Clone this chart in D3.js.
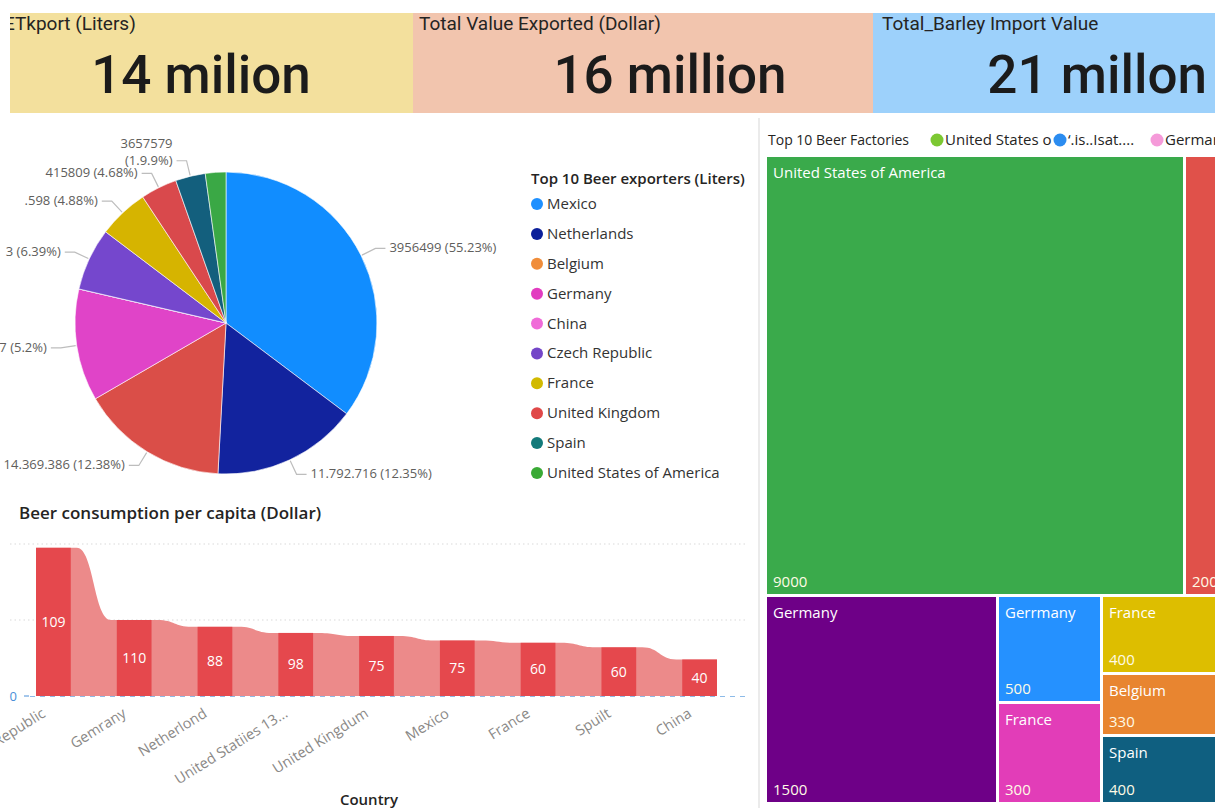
<!DOCTYPE html>
<html>
<head>
<meta charset="utf-8">
<script src="https://cdn.jsdelivr.net/npm/d3@7"></script>
<style>
  body { margin: 0; background: #fff; }
  svg { display: block; font-family: "Segoe UI", "Open Sans", sans-serif; }
</style>
</head>
<body>
<div id="dash"></div>
<script>
// ---- data ----
const kpiTitles = ["ETkport (Liters)", "Total Value Exported (Dollar)", "Total_Barley Import Value"];
const kpiValues = ["14 milion", "16 million", "21 millon"];

const exporters = ["Mexico", "Netherlands", "Belgium", "Germany", "China", "Czech Republic",
                   "France", "United Kingdom", "Spain", "United States of America"];
const exportShare = [35.3, 15.6, 15.8, 12.0, 0, 6.7, 5.4, 3.9, 3.2, 2.2];
const exportLabels = [["3956499 (55.23%)"], ["11.792.716 (12.35%)"], ["14.369.386 (12.38%)"], ["7 (5.2%)"], [],
                      ["3 (6.39%)"], [".598 (4.88%)"], ["415809 (4.68%)"], ["3657579", "(1.9.9%)"], []];

const countries = ["Czech Republic", "Gemrany", "Netherlond", "United Statiies 13...", "United Kingdum",
                   "Mexico", "France", "Spuilt", "China"];
const perCapita = [195, 100, 91, 83, 79, 73, 70, 64, 48];
const perCapitaLabels = [109, 110, 88, 98, 75, 75, 60, 60, 40];

const factoryNames = ["United States of America", "", "Germany", "Gerrmany", "France", "France", "Belgium", "Spain"];
const factoryLabels = [9000, 200, 1500, 500, 300, 400, 330, 400];
const factorySize = [1810, 140, 476, 110, 103, 88, 70, 77];
const factoryLegend = ["United States o", "\u2018.is..Isat....", "Germany"];

// ---- colours ----
const kpiColors = ["#f3e09d", "#f2c5ae", "#9dd1fb"];
const pieColors = ["#118dff", "#12239e", "#da4e48", "#e044c8", "#f06bd8", "#7547cd",
                   "#d6b400", "#d9494c", "#135f7d", "#3aa845"];
const legendColors = ["#1e90ff", "#0b1f9a", "#f08d3a", "#e23cc0", "#f06bd8", "#7446c8",
                      "#d2ba00", "#e04848", "#137a7a", "#3aaa35"];
const factoryColors = ["#3aaa4b", "#e0514a", "#6e0087", "#2591ff", "#e23db8", "#ddbe00", "#e88530", "#0f5f80"];
const factoryLegendColors = ["#7cc832", "#2b8cf0", "#f59ad9"];

const W = 1227, H = 808;
const svg = d3.select("#dash").append("svg").attr("width", W).attr("height", H);

// ---- KPI cards ----
const cards = [
  {x0: 10, x1: 413, tx: 4, vx: 201, anchor: "middle"},
  {x0: 413, x1: 873, tx: 419, vx: 670, anchor: "middle"},
  {x0: 873, x1: 1215, tx: 882, vx: 1207, anchor: "end"}
];
const defs = svg.append("defs");
cards.forEach((c, i) => {
  defs.append("clipPath").attr("id", "kpi" + i)
    .append("rect").attr("x", c.x0).attr("y", 13).attr("width", c.x1 - c.x0).attr("height", 100);
  const g = svg.append("g").attr("clip-path", "url(#kpi" + i + ")");
  g.append("rect").attr("x", c.x0).attr("y", 13).attr("width", c.x1 - c.x0).attr("height", 100)
    .attr("fill", kpiColors[i]);
  g.append("text").attr("x", c.tx).attr("y", 30)
    .style("font-family", "Roboto, sans-serif").style("font-size", "19px").attr("fill", "#252423")
    .text(kpiTitles[i]);
  g.append("text").attr("x", c.vx).attr("y", 93).attr("text-anchor", c.anchor)
    .style("font-family", "Roboto, sans-serif").style("font-size", "53px").style("font-weight", 500)
    .attr("fill", "#1b1b1b").text(kpiValues[i]);
});

// divider between the two halves
svg.append("line").attr("x1", 759).attr("x2", 759).attr("y1", 118).attr("y2", H)
  .attr("stroke", "#e4e4e4").attr("stroke-width", 1.5);

// ---- pie ----
const cx = 226, cy = 323, R = 151;
const pie = d3.pie().sort(null).value(d => d)(exportShare);
const arc = d3.arc().innerRadius(0).outerRadius(R);
const gp = svg.append("g").attr("transform", `translate(${cx},${cy})`);
gp.selectAll("path").data(pie).join("path")
  .attr("d", arc).attr("fill", (d, i) => pieColors[i])
  .attr("stroke", "#fff").attr("stroke-width", 0.6);

const labelG = gp.append("g");
pie.forEach((d, i) => {
  const lines = exportLabels[i];
  if (!lines.length) return;
  const a = (d.startAngle + d.endAngle) / 2;
  const sx = Math.sin(a), sy = -Math.cos(a);
  const right = sx > 0;
  const p1 = [sx * (R + 1), sy * (R + 1)];
  const p2 = [sx * (R + 16), sy * (R + 16)];
  const p3 = [p2[0] + (right ? 10 : -10), p2[1]];
  labelG.append("polyline").attr("points", [p1, p2, p3].map(p => p.join(",")).join(" "))
    .attr("fill", "none").attr("stroke", "#bdbdbd").attr("stroke-width", 1.2);
  const t = labelG.append("text")
    .attr("text-anchor", right ? "start" : "end")
    .style("font-size", "13px").attr("fill", "#605e5c");
  lines.forEach((ln, k) => {
    t.append("tspan").attr("x", p3[0] + (right ? 4 : -4))
      .attr("y", p3[1] + 4 - (lines.length - 1) * 17 + k * 17).text(ln);
  });
});

// pie legend
const lg = svg.append("g").attr("transform", "translate(531,0)");
lg.append("text").attr("x", 0).attr("y", 184)
  .style("font-size", "15px").style("font-weight", 600).attr("fill", "#252423")
  .text("Top 10 Beer exporters (Liters)");
const ly = d3.scalePoint().domain(exporters).range([204, 473]);
exporters.forEach((name, i) => {
  lg.append("circle").attr("cx", 6).attr("cy", ly(name)).attr("r", 6).attr("fill", legendColors[i]);
  lg.append("text").attr("x", 16).attr("y", ly(name) + 5)
    .style("font-size", "15px").attr("fill", "#333").text(name);
});

// ---- beer consumption per capita ----
svg.append("text").attr("x", 19).attr("y", 519)
  .style("font-size", "17px").style("font-weight", 600).attr("fill", "#252423")
  .text("Beer consumption per capita (Dollar)");

const x = d3.scaleBand().domain(countries).range([13, 740]).paddingInner(0.57).paddingOuter(0.285);
const y = d3.scaleLinear().domain([0, 200]).range([696, 544]);

// gridlines
svg.append("g").selectAll("line").data([100, 200]).join("line")
  .attr("x1", 10).attr("x2", 745).attr("y1", d => y(d)).attr("y2", d => y(d))
  .attr("stroke", "#d9d9d9").attr("stroke-dasharray", "1.5,3");

// ribbon joining the bar tops
const ribbonPts = [];
countries.forEach((c, i) => {
  const l = x(c), r = x(c) + x.bandwidth();
  ribbonPts.push([l, perCapita[i]], [r + (i < countries.length - 1 ? 6 : 0), perCapita[i]]);
  if (i < countries.length - 1) ribbonPts.push([x(countries[i + 1]) - 6, perCapita[i + 1]]);
});
svg.append("path").datum(ribbonPts)
  .attr("d", d3.area().curve(d3.curveBumpX).x(d => d[0]).y0(y(0)).y1(d => y(d[1])))
  .attr("fill", "#ec8a8a");

svg.append("g").selectAll("rect").data(perCapita).join("rect")
  .attr("x", (d, i) => x(countries[i])).attr("width", x.bandwidth())
  .attr("y", d => y(d)).attr("height", d => y(0) - y(d))
  .attr("fill", "#e5484d");

svg.append("g").selectAll("text").data(perCapita).join("text")
  .attr("x", (d, i) => x(countries[i]) + x.bandwidth() / 2)
  .attr("y", d => (y(d) + y(0)) / 2 + 5)
  .attr("text-anchor", "middle").style("font-size", "14px").attr("fill", "#fff")
  .text((d, i) => perCapitaLabels[i]);

// baseline + y tick
svg.append("line").attr("x1", 30).attr("x2", 745).attr("y1", y(0) + 0.5).attr("y2", y(0) + 0.5)
  .attr("stroke", "#8dbbe8").attr("stroke-dasharray", "5,5");
svg.append("text").attr("x", 17).attr("y", y(0) + 5).attr("text-anchor", "end")
  .style("font-size", "13px").attr("fill", "#4a8fd8").text("0");
svg.append("line").attr("x1", 24).attr("x2", 29).attr("y1", y(0)).attr("y2", y(0))
  .attr("stroke", "#4a8fd8");

// rotated category labels
svg.append("g").selectAll("text").data(countries).join("text")
  .attr("transform", d => `translate(${x(d) + x.bandwidth() / 2 - 7},${y(0) + 20}) rotate(-32)`)
  .attr("text-anchor", "end").style("font-size", "14.5px").attr("fill", "#8a8886")
  .text(d => d);

svg.append("text").attr("x", 369).attr("y", 805).attr("text-anchor", "middle")
  .style("font-size", "15px").style("font-weight", 600).attr("fill", "#252423").text("Country");

// ---- treemap of factories ----
defs.append("clipPath").attr("id", "rightClip")
  .append("rect").attr("x", 760).attr("y", 115).attr("width", 455).attr("height", H);
const gt = svg.append("g").attr("clip-path", "url(#rightClip)");

gt.append("text").attr("x", 768).attr("y", 145)
  .style("font-size", "14px").attr("fill", "#252423").text("Top 10 Beer Factories");
const legX = [937, 1060, 1157];
factoryLegend.forEach((t, i) => {
  gt.append("circle").attr("cx", legX[i]).attr("cy", 140).attr("r", 6.5).attr("fill", factoryLegendColors[i]);
  gt.append("text").attr("x", legX[i] + 8).attr("y", 145)
    .style("font-size", "15px").attr("fill", "#252423").text(t);
});

// rows -> columns -> cells, sliced and diced like the picture
const leaf = i => ({i, value: factorySize[i]});
const tree = {children: [{children: [
  {children: [leaf(0), leaf(1)]},
  {children: [leaf(2), {children: [leaf(3), leaf(4)]}, {children: [leaf(5), leaf(6), leaf(7)]}]}
]}]};
const root = d3.hierarchy(tree).sum(d => d.value || 0);
d3.treemap().tile(d3.treemapSliceDice).size([448, 645]).paddingInner(3).round(true)(root);

const cells = gt.append("g").attr("transform", "translate(767,157)")
  .selectAll("g").data(root.leaves()).join("g")
  .attr("transform", d => `translate(${d.x0},${d.y0})`);
cells.append("rect").attr("width", d => d.x1 - d.x0).attr("height", d => d.y1 - d.y0)
  .attr("fill", d => factoryColors[d.data.i]);
cells.append("text").attr("x", 6).attr("y", 21)
  .style("font-size", "15px").attr("fill", "#fff").text(d => factoryNames[d.data.i]);
cells.append("text").attr("x", 6).attr("y", d => d.y1 - d.y0 - 7)
  .style("font-size", "15px").attr("fill", "#fffbe6").text(d => factoryLabels[d.data.i]);
</script>
</body>
</html>
